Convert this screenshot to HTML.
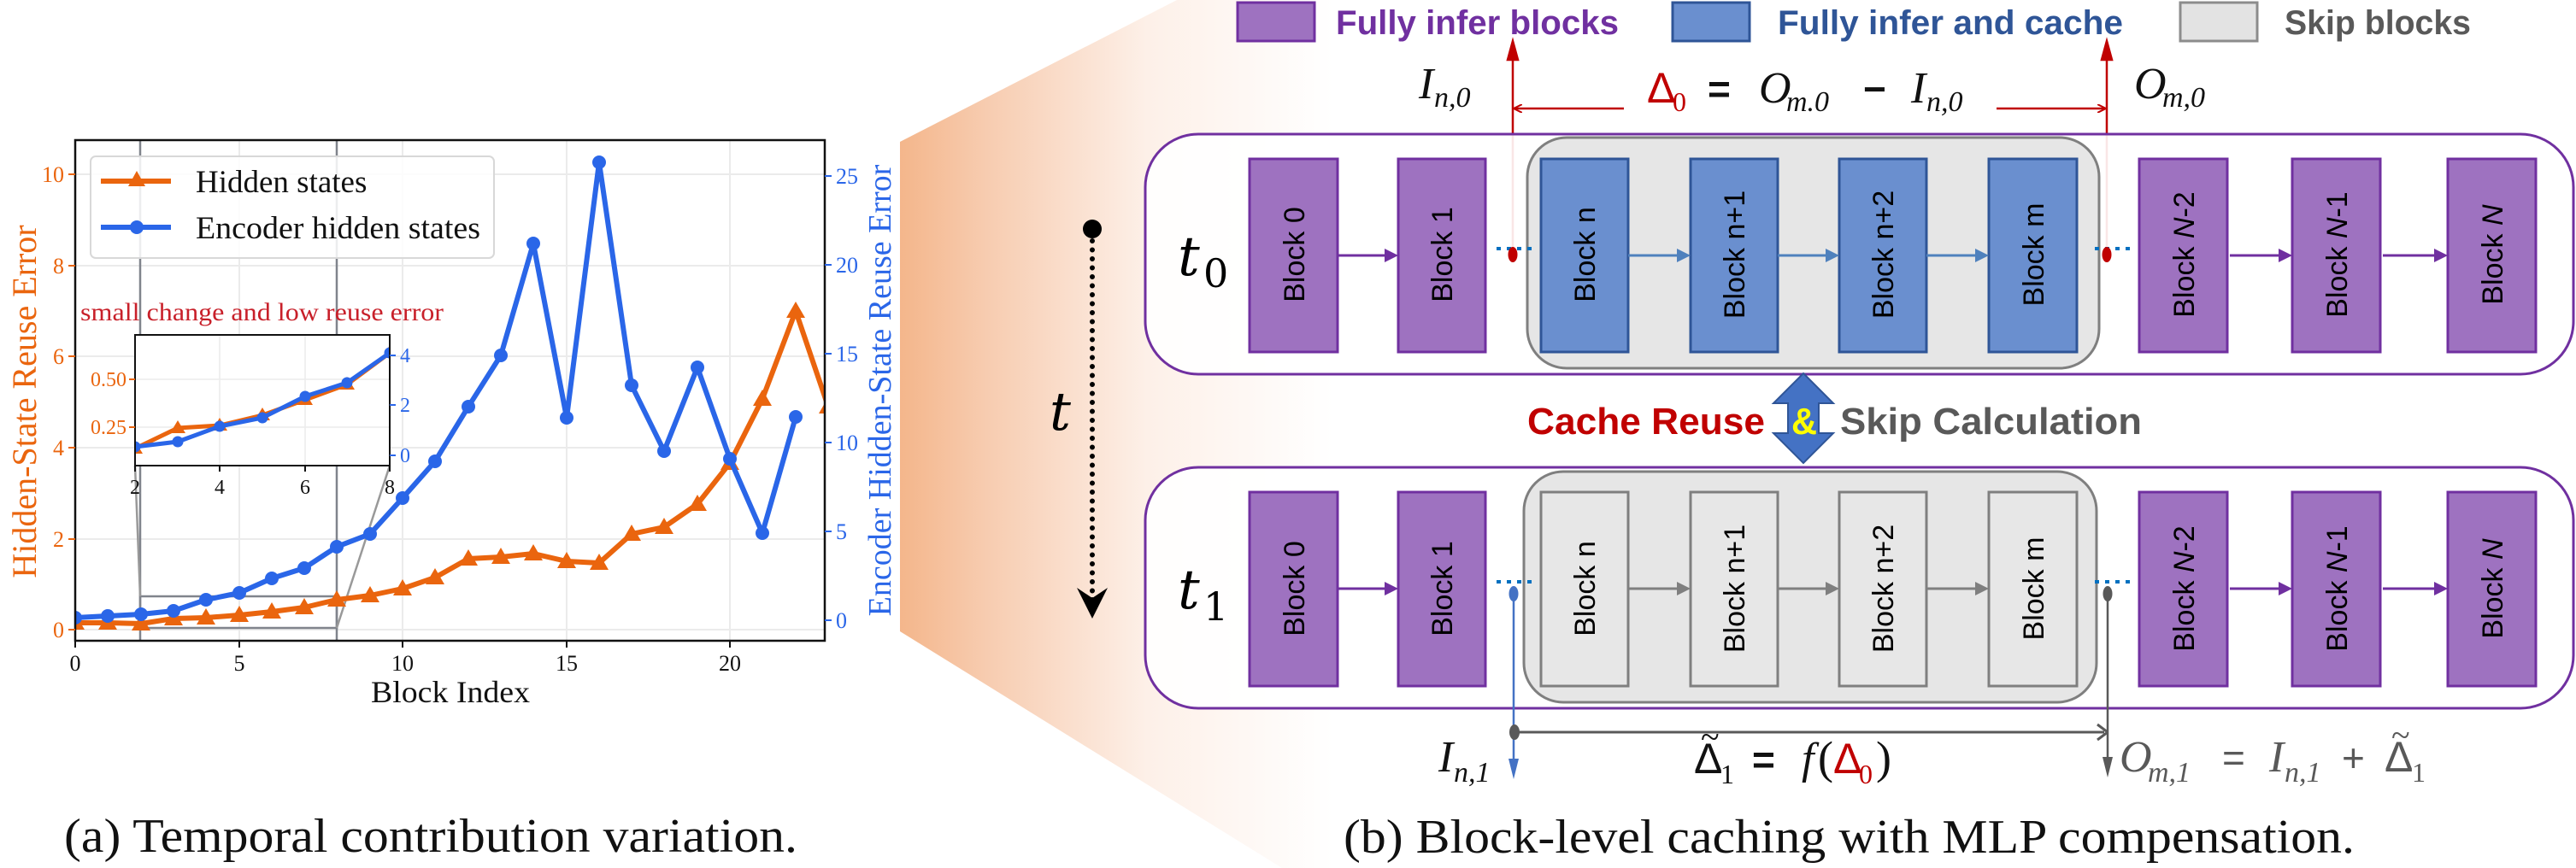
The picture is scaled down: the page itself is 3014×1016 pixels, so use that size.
<!DOCTYPE html>
<html><head><meta charset="utf-8"><style>html,body{margin:0;padding:0;background:#fff}svg{display:block}</style></head>
<body>
<svg width="3014" height="1016" viewBox="0 0 3014 1016" xmlns="http://www.w3.org/2000/svg">
<defs>
<linearGradient id="wg" x1="1053" y1="0" x2="1560" y2="0" gradientUnits="userSpaceOnUse">
<stop offset="0" stop-color="#f4b68b"/><stop offset="0.2" stop-color="#f7ccb0"/><stop offset="0.57" stop-color="#fdf0e8"/><stop offset="1" stop-color="#ffffff"/>
</linearGradient>
<clipPath id="pc"><rect x="88" y="164" width="877" height="586"/></clipPath>
<clipPath id="ic"><rect x="158" y="392" width="298" height="153"/></clipPath>
<marker id="ar" markerWidth="10" markerHeight="10" refX="9" refY="5" orient="auto" markerUnits="userSpaceOnUse"><path d="M0,0 L10,5 L0,10" fill="none" stroke="#c00000" stroke-width="2"/></marker>
</defs>
<!-- wedge -->
<polygon points="1053,166 1377,0 1600,0 1600,1016 1500,1016 1053,739" fill="url(#wg)"/>

<!-- ===== Plot (a) ===== -->
<g stroke="#ebebeb" stroke-width="2">
<line x1="88" y1="164" x2="88" y2="750"/><line x1="280" y1="164" x2="280" y2="750"/><line x1="471" y1="164" x2="471" y2="750"/><line x1="663" y1="164" x2="663" y2="750"/><line x1="854" y1="164" x2="854" y2="750"/>
<line x1="88" y1="737" x2="965" y2="737"/><line x1="88" y1="631" x2="965" y2="631"/><line x1="88" y1="524" x2="965" y2="524"/><line x1="88" y1="417" x2="965" y2="417"/><line x1="88" y1="311" x2="965" y2="311"/><line x1="88" y1="204" x2="965" y2="204"/>
</g>
<g stroke="#80848c" stroke-width="2.5" fill="none">
<line x1="164" y1="164" x2="164" y2="750"/><line x1="394" y1="164" x2="394" y2="750"/>
<rect x="164" y="698" width="230" height="37"/>
<line x1="158" y1="545" x2="164" y2="698" stroke="#999"/><line x1="456" y1="545" x2="394" y2="735" stroke="#999"/>
</g>
<g clip-path="url(#pc)">
<polyline fill="none" stroke="#ea650e" stroke-width="6" stroke-linejoin="round" points="88,729 126,729 165,730 203,724 241,723 280,720 318,716 356,711 394,702 433,697 471,689 509,676 548,654 586,652 624,648 663,657 701,659 739,625 777,617 816,590 854,542 892,467 931,364 969,476"/>
<g fill="#ea650e">
<path d="M88,718 l11,19 h-22z M126,718 l11,19 h-22z M165,719 l11,19 h-22z M203,713 l11,19 h-22z M241,712 l11,19 h-22z M280,709 l11,19 h-22z M318,705 l11,19 h-22z M356,700 l11,19 h-22z M394,691 l11,19 h-22z M433,686 l11,19 h-22z M471,678 l11,19 h-22z M509,665 l11,19 h-22z M548,643 l11,19 h-22z M586,641 l11,19 h-22z M624,637 l11,19 h-22z M663,646 l11,19 h-22z M701,648 l11,19 h-22z M739,614 l11,19 h-22z M777,606 l11,19 h-22z M816,579 l11,19 h-22z M854,531 l11,19 h-22z M892,456 l11,19 h-22z M931,353 l11,19 h-22z M969,465 l11,19 h-22z"/>
</g>
<polyline fill="none" stroke="#2a66e8" stroke-width="6" stroke-linejoin="round" points="88,723 126,721 165,719 203,715 241,702 280,694 318,677 356,665 394,640 433,625 471,583 509,540 548,476 586,416 624,285 663,489 701,190 739,451 777,528 816,430 854,537 892,624 931,488"/>
<g fill="#2a66e8">
<circle cx="88" cy="723" r="8"/><circle cx="126" cy="721" r="8"/><circle cx="165" cy="719" r="8"/><circle cx="203" cy="715" r="8"/><circle cx="241" cy="702" r="8"/><circle cx="280" cy="694" r="8"/><circle cx="318" cy="677" r="8"/><circle cx="356" cy="665" r="8"/><circle cx="394" cy="640" r="8"/><circle cx="433" cy="625" r="8"/><circle cx="471" cy="583" r="8"/><circle cx="509" cy="540" r="8"/><circle cx="548" cy="476" r="8"/><circle cx="586" cy="416" r="8"/><circle cx="624" cy="285" r="8"/><circle cx="663" cy="489" r="8"/><circle cx="701" cy="190" r="8"/><circle cx="739" cy="451" r="8"/><circle cx="777" cy="528" r="8"/><circle cx="816" cy="430" r="8"/><circle cx="854" cy="537" r="8"/><circle cx="892" cy="624" r="8"/><circle cx="931" cy="488" r="8"/>
</g>
</g>
<rect x="88" y="164" width="877" height="586" fill="none" stroke="#111" stroke-width="2.5"/>
<!-- ticks -->
<g stroke="#111" stroke-width="2"><line x1="88" y1="750" x2="88" y2="758"/><line x1="280" y1="750" x2="280" y2="758"/><line x1="471" y1="750" x2="471" y2="758"/><line x1="663" y1="750" x2="663" y2="758"/><line x1="854" y1="750" x2="854" y2="758"/></g>
<g stroke="#ea650e" stroke-width="2"><line x1="80" y1="737" x2="88" y2="737"/><line x1="80" y1="631" x2="88" y2="631"/><line x1="80" y1="524" x2="88" y2="524"/><line x1="80" y1="417" x2="88" y2="417"/><line x1="80" y1="311" x2="88" y2="311"/><line x1="80" y1="204" x2="88" y2="204"/></g>
<g stroke="#2a66e8" stroke-width="2"><line x1="965" y1="726" x2="973" y2="726"/><line x1="965" y1="622" x2="973" y2="622"/><line x1="965" y1="518" x2="973" y2="518"/><line x1="965" y1="414" x2="973" y2="414"/><line x1="965" y1="310" x2="973" y2="310"/><line x1="965" y1="206" x2="973" y2="206"/></g>
<g font-family="Liberation Serif, serif" font-size="26" fill="#111" text-anchor="middle">
<text x="88" y="785">0</text><text x="280" y="785">5</text><text x="471" y="785">10</text><text x="663" y="785">15</text><text x="854" y="785">20</text>
</g>
<g font-family="Liberation Serif, serif" font-size="26" fill="#ea650e" text-anchor="end">
<text x="75" y="746">0</text><text x="75" y="640">2</text><text x="75" y="533">4</text><text x="75" y="426">6</text><text x="75" y="320">8</text><text x="75" y="213">10</text>
</g>
<g font-family="Liberation Serif, serif" font-size="26" fill="#2a66e8">
<text x="978" y="735">0</text><text x="978" y="631">5</text><text x="978" y="527">10</text><text x="978" y="423">15</text><text x="978" y="319">20</text><text x="978" y="215">25</text>
</g>
<text x="527" y="822" font-family="Liberation Serif, serif" font-size="36" fill="#111" text-anchor="middle" textLength="186" lengthAdjust="spacingAndGlyphs">Block Index</text>
<text transform="translate(42,470) rotate(-90)" font-family="Liberation Serif, serif" font-size="40" fill="#ea650e" text-anchor="middle">Hidden-State Reuse Error</text>
<text transform="translate(1042,457) rotate(-90)" font-family="Liberation Serif, serif" font-size="38" fill="#2a66e8" text-anchor="middle">Encoder Hidden-State Reuse Error</text>
<!-- legend -->
<rect x="106" y="183" width="472" height="119" rx="6" fill="#fff" fill-opacity="0.85" stroke="#d8d8d8" stroke-width="2"/>
<line x1="118" y1="212" x2="200" y2="212" stroke="#ea650e" stroke-width="6"/><path d="M160,200 l10,18 h-20z" fill="#ea650e"/>
<line x1="118" y1="266" x2="200" y2="266" stroke="#2a66e8" stroke-width="6"/><circle cx="160" cy="266" r="8" fill="#2a66e8"/>
<text x="229" y="225" font-family="Liberation Serif, serif" font-size="37" fill="#111">Hidden states</text>
<text x="229" y="279" font-family="Liberation Serif, serif" font-size="37" fill="#111" textLength="333" lengthAdjust="spacingAndGlyphs">Encoder hidden states</text>
<text x="94" y="375" font-family="Liberation Serif, serif" font-size="30" fill="#c8202a" textLength="425" lengthAdjust="spacingAndGlyphs">small change and low reuse error</text>
<!-- inset -->
<rect x="158" y="392" width="298" height="153" fill="#fff"/>
<g stroke="#ececec" stroke-width="1.5"><line x1="257" y1="392" x2="257" y2="545"/><line x1="357" y1="392" x2="357" y2="545"/><line x1="158" y1="444" x2="456" y2="444"/><line x1="158" y1="500" x2="456" y2="500"/></g>
<g clip-path="url(#ic)">
<polyline fill="none" stroke="#ea650e" stroke-width="5" points="158,525 208,501 257,498 307,486 357,468 406,450 456,413"/>
<g fill="#ea650e"><path d="M158,516 l9,15 h-18z M208,492 l9,15 h-18z M257,489 l9,15 h-18z M307,477 l9,15 h-18z M357,459 l9,15 h-18z M406,441 l9,15 h-18z M456,404 l9,15 h-18z"/></g>
<polyline fill="none" stroke="#2a66e8" stroke-width="5" points="158,523 208,517 257,499 307,489 357,464 406,448 456,413"/>
<g fill="#2a66e8"><circle cx="158" cy="523" r="6.5"/><circle cx="208" cy="517" r="6.5"/><circle cx="257" cy="499" r="6.5"/><circle cx="307" cy="489" r="6.5"/><circle cx="357" cy="464" r="6.5"/><circle cx="406" cy="448" r="6.5"/><circle cx="456" cy="413" r="6.5"/></g>
</g>
<rect x="158" y="392" width="298" height="153" fill="none" stroke="#111" stroke-width="2"/>
<g stroke="#111" stroke-width="2"><line x1="158" y1="545" x2="158" y2="552"/><line x1="257" y1="545" x2="257" y2="552"/><line x1="357" y1="545" x2="357" y2="552"/><line x1="456" y1="545" x2="456" y2="552"/></g>
<g stroke="#ea650e" stroke-width="2"><line x1="151" y1="444" x2="158" y2="444"/><line x1="151" y1="500" x2="158" y2="500"/></g>
<g stroke="#2a66e8" stroke-width="2"><line x1="456" y1="416" x2="463" y2="416"/><line x1="456" y1="474" x2="463" y2="474"/><line x1="456" y1="533" x2="463" y2="533"/></g>
<g font-family="Liberation Serif, serif" font-size="24" fill="#111" text-anchor="middle"><text x="158" y="578">2</text><text x="257" y="578">4</text><text x="357" y="578">6</text><text x="456" y="578">8</text></g>
<g font-family="Liberation Serif, serif" font-size="24" fill="#ea650e" text-anchor="end"><text x="148" y="452">0.50</text><text x="148" y="508">0.25</text></g>
<g font-family="Liberation Serif, serif" font-size="24" fill="#2a66e8"><text x="468" y="424">4</text><text x="468" y="482">2</text><text x="468" y="541">0</text></g>
<text x="75" y="997" font-family="Liberation Serif, serif" font-size="56" fill="#111" textLength="858" lengthAdjust="spacingAndGlyphs">(a) Temporal contribution variation.</text>

<!-- ===== Panel (b) ===== -->
<!-- legend -->
<rect x="1448" y="3" width="90" height="45" fill="#9e72c0" stroke="#7030a0" stroke-width="3"/>
<text x="1563" y="40" font-family="Liberation Sans, sans-serif" font-weight="bold" font-size="40" fill="#7030a0" textLength="331" lengthAdjust="spacingAndGlyphs">Fully infer blocks</text>
<rect x="1957" y="3" width="90" height="45" fill="#6a8fcf" stroke="#2f5597" stroke-width="3"/>
<text x="2080" y="40" font-family="Liberation Sans, sans-serif" font-weight="bold" font-size="40" fill="#2f5597" textLength="404" lengthAdjust="spacingAndGlyphs">Fully infer and cache</text>
<rect x="2551" y="3" width="90" height="45" fill="#e3e3e3" stroke="#8c8c8c" stroke-width="3"/>
<text x="2673" y="40" font-family="Liberation Sans, sans-serif" font-weight="bold" font-size="40" fill="#595959" textLength="218" lengthAdjust="spacingAndGlyphs">Skip blocks</text>

<!-- equation top -->
<g font-family="Liberation Serif, serif" font-style="italic" fill="#111">
<text x="1660" y="115" font-size="52">I</text><text x="1678" y="125" font-size="34">n,0</text>
<text x="2058" y="120" font-size="52">O</text><text x="2090" y="130" font-size="34">m.0</text>
<text x="2236" y="120" font-size="52">I</text><text x="2254" y="130" font-size="34">n,0</text>
<text x="2497" y="115" font-size="52">O</text><text x="2530" y="125" font-size="34">m,0</text>
</g>
<text x="1927" y="120" font-family="Liberation Sans, sans-serif" font-size="50" fill="#c00000">Δ</text>
<text x="1957" y="130" font-family="Liberation Serif, serif" font-size="32" fill="#c00000">0</text>
<text x="1998" y="120" font-family="Liberation Sans, sans-serif" font-weight="bold" font-size="46" fill="#111">=</text>
<text x="2180" y="120" font-family="Liberation Sans, sans-serif" font-weight="bold" font-size="46" fill="#111">−</text>
<g stroke="#c00000" stroke-width="2.5" fill="none">
<line x1="1770" y1="298" x2="1770" y2="55"/><path d="M1770,48 l-6,22 h12z" fill="#c00000"/>
<line x1="2465" y1="298" x2="2465" y2="55"/><path d="M2465,48 l-6,22 h12z" fill="#c00000"/>
<line x1="1900" y1="127" x2="1772" y2="127" marker-end="url(#ar)"/>
<line x1="2336" y1="127" x2="2463" y2="127" marker-end="url(#ar)"/>
</g>

<!-- time axis -->
<line x1="1278" y1="282" x2="1278" y2="708" stroke="#000" stroke-width="6" stroke-linecap="round" stroke-dasharray="0 10.5"/>
<ellipse cx="1278" cy="268" rx="11" ry="11" fill="#000"/>
<path d="M1278,724 L1260,688 L1278,700 L1296,688 Z" fill="#000"/>
<text x="1228" y="503" font-family="DejaVu Serif, serif" font-style="italic" font-size="62" fill="#000">t</text>

<!-- t0 row -->
<rect x="1340" y="157" width="1671" height="281" rx="62" fill="#fff" fill-opacity="0.9" stroke="#7030a0" stroke-width="3"/>
<text x="1378" y="322" font-family="DejaVu Serif, serif" font-style="italic" font-size="64" fill="#000">t</text>
<text x="1408" y="336" font-family="DejaVu Serif, serif" font-size="46" fill="#000">0</text>
<rect x="1787" y="161" width="669" height="270" rx="46" fill="#e6e6e6" stroke="#7f7f7f" stroke-width="3"/>
<g stroke-width="3">
<rect x="1462" y="186" width="103" height="226" fill="#9e72c0" stroke="#7030a0"/>
<rect x="1636" y="186" width="102" height="226" fill="#9e72c0" stroke="#7030a0"/>
<rect x="1803" y="186" width="102" height="226" fill="#6a8fcf" stroke="#2f5597"/>
<rect x="1978" y="186" width="102" height="226" fill="#6a8fcf" stroke="#2f5597"/>
<rect x="2152" y="186" width="102" height="226" fill="#6a8fcf" stroke="#2f5597"/>
<rect x="2327" y="186" width="103" height="226" fill="#6a8fcf" stroke="#2f5597"/>
<rect x="2503" y="186" width="103" height="226" fill="#9e72c0" stroke="#7030a0"/>
<rect x="2682" y="186" width="103" height="226" fill="#9e72c0" stroke="#7030a0"/>
<rect x="2864" y="186" width="103" height="226" fill="#9e72c0" stroke="#7030a0"/>
</g>
<!-- t1 row -->
<rect x="1340" y="547" width="1671" height="282" rx="62" fill="#fff" fill-opacity="0.9" stroke="#7030a0" stroke-width="3"/>
<text x="1378" y="712" font-family="DejaVu Serif, serif" font-style="italic" font-size="64" fill="#000">t</text>
<text x="1408" y="726" font-family="DejaVu Serif, serif" font-size="46" fill="#000">1</text>
<rect x="1783" y="552" width="670" height="270" rx="46" fill="#e6e6e6" stroke="#7f7f7f" stroke-width="3"/>
<g stroke-width="3">
<rect x="1462" y="576" width="103" height="227" fill="#9e72c0" stroke="#7030a0"/>
<rect x="1636" y="576" width="102" height="227" fill="#9e72c0" stroke="#7030a0"/>
<rect x="1803" y="576" width="102" height="227" fill="#e7e7e7" stroke="#7f7f7f"/>
<rect x="1978" y="576" width="102" height="227" fill="#e7e7e7" stroke="#7f7f7f"/>
<rect x="2152" y="576" width="102" height="227" fill="#e7e7e7" stroke="#7f7f7f"/>
<rect x="2327" y="576" width="103" height="227" fill="#e7e7e7" stroke="#7f7f7f"/>
<rect x="2503" y="576" width="103" height="227" fill="#9e72c0" stroke="#7030a0"/>
<rect x="2682" y="576" width="103" height="227" fill="#9e72c0" stroke="#7030a0"/>
<rect x="2864" y="576" width="103" height="227" fill="#9e72c0" stroke="#7030a0"/>
</g>
<!-- block labels -->
<g font-family="Liberation Sans, sans-serif" font-size="34" fill="#000" text-anchor="middle">
<text transform="translate(1526,298) rotate(-90)">Block 0</text>
<text transform="translate(1699,298) rotate(-90)">Block 1</text>
<text transform="translate(1866,298) rotate(-90)">Block n</text>
<text transform="translate(2041,298) rotate(-90)">Block n+1</text>
<text transform="translate(2215,298) rotate(-90)">Block n+2</text>
<text transform="translate(2391,298) rotate(-90)">Block m</text>
<text transform="translate(2567,298) rotate(-90)">Block <tspan font-style="italic">N</tspan>-2</text>
<text transform="translate(2746,298) rotate(-90)">Block <tspan font-style="italic">N</tspan>-1</text>
<text transform="translate(2928,298) rotate(-90)">Block <tspan font-style="italic">N</tspan></text>
<text transform="translate(1526,689) rotate(-90)">Block 0</text>
<text transform="translate(1699,689) rotate(-90)">Block 1</text>
<text transform="translate(1866,689) rotate(-90)">Block n</text>
<text transform="translate(2041,689) rotate(-90)">Block n+1</text>
<text transform="translate(2215,689) rotate(-90)">Block n+2</text>
<text transform="translate(2391,689) rotate(-90)">Block m</text>
<text transform="translate(2567,689) rotate(-90)">Block <tspan font-style="italic">N</tspan>-2</text>
<text transform="translate(2746,689) rotate(-90)">Block <tspan font-style="italic">N</tspan>-1</text>
<text transform="translate(2928,689) rotate(-90)">Block <tspan font-style="italic">N</tspan></text>
</g>
<!-- row arrows -->
<g stroke-width="3">
<line x1="1565" y1="299" x2="1622" y2="299" stroke="#7030a0"/><path d="M1636,299 l-16,-8 v16z" fill="#7030a0"/>
<line x1="2609" y1="299" x2="2668" y2="299" stroke="#7030a0"/><path d="M2682,299 l-16,-8 v16z" fill="#7030a0"/>
<line x1="2788" y1="299" x2="2850" y2="299" stroke="#7030a0"/><path d="M2864,299 l-16,-8 v16z" fill="#7030a0"/>
<line x1="1905" y1="299" x2="1964" y2="299" stroke="#4f81bd"/><path d="M1978,299 l-16,-8 v16z" fill="#4f81bd"/>
<line x1="2080" y1="299" x2="2138" y2="299" stroke="#4f81bd"/><path d="M2152,299 l-16,-8 v16z" fill="#4f81bd"/>
<line x1="2254" y1="299" x2="2313" y2="299" stroke="#4f81bd"/><path d="M2327,299 l-16,-8 v16z" fill="#4f81bd"/>
<line x1="1565" y1="689" x2="1622" y2="689" stroke="#7030a0"/><path d="M1636,689 l-16,-8 v16z" fill="#7030a0"/>
<line x1="2609" y1="689" x2="2668" y2="689" stroke="#7030a0"/><path d="M2682,689 l-16,-8 v16z" fill="#7030a0"/>
<line x1="2788" y1="689" x2="2850" y2="689" stroke="#7030a0"/><path d="M2864,689 l-16,-8 v16z" fill="#7030a0"/>
<line x1="1905" y1="689" x2="1964" y2="689" stroke="#7f7f7f"/><path d="M1978,689 l-16,-8 v16z" fill="#7f7f7f"/>
<line x1="2080" y1="689" x2="2138" y2="689" stroke="#7f7f7f"/><path d="M2152,689 l-16,-8 v16z" fill="#7f7f7f"/>
<line x1="2254" y1="689" x2="2313" y2="689" stroke="#7f7f7f"/><path d="M2327,689 l-16,-8 v16z" fill="#7f7f7f"/>
</g>
<!-- dotted connectors -->
<g stroke="#0070c0" stroke-width="4" stroke-dasharray="5 7">
<line x1="1751" y1="291" x2="1792" y2="291"/><line x1="2451" y1="291" x2="2492" y2="291"/>
<line x1="1751" y1="681" x2="1792" y2="681"/><line x1="2451" y1="681" x2="2492" y2="681"/>
</g>
<ellipse cx="1770" cy="298" rx="5.5" ry="9" fill="#c00000"/>
<ellipse cx="2465" cy="298" rx="5.5" ry="9" fill="#c00000"/>
<!-- bottom connectors -->
<line x1="1771" y1="695" x2="1771" y2="890" stroke="#4472c4" stroke-width="2.5"/><path d="M1771,912 l-6,-24 h12z" fill="#4472c4"/>
<line x1="2466" y1="695" x2="2466" y2="890" stroke="#595959" stroke-width="2.5"/><path d="M2466,910 l-6,-24 h12z" fill="#595959"/>
<line x1="1773" y1="857" x2="2462" y2="857" stroke="#595959" stroke-width="3"/><path d="M2466,857 l-12,-9 M2466,857 l-12,9" stroke="#595959" stroke-width="3"/>
<ellipse cx="1772" cy="857" rx="6" ry="9" fill="#595959"/>
<ellipse cx="1771" cy="695" rx="5.5" ry="9" fill="#4472c4"/>
<ellipse cx="2466" cy="695" rx="5.5" ry="9" fill="#595959"/>
<!-- bottom equations -->
<g font-family="Liberation Serif, serif" font-style="italic" fill="#111">
<text x="1683" y="903" font-size="52">I</text><text x="1701" y="915" font-size="34">n,1</text>
<text x="2108" y="905" font-size="52">f</text>
</g>
<text x="1982" y="905" font-family="Liberation Sans, sans-serif" font-size="50" fill="#111">Δ</text>
<text x="1990" y="876" font-family="Liberation Serif, serif" font-size="40" fill="#111">~</text>
<text x="2013" y="917" font-family="Liberation Serif, serif" font-size="32" fill="#111">1</text>
<text x="2050" y="905" font-family="Liberation Sans, sans-serif" font-weight="bold" font-size="46" fill="#111">=</text>
<text x="2127" y="905" font-family="Liberation Serif, serif" font-size="54" fill="#111">(</text>
<text x="2145" y="905" font-family="Liberation Sans, sans-serif" font-size="50" fill="#c00000">Δ</text>
<text x="2175" y="917" font-family="Liberation Serif, serif" font-size="32" fill="#c00000">0</text>
<text x="2195" y="905" font-family="Liberation Serif, serif" font-size="54" fill="#111">)</text>
<g fill="#595959">
<text x="2480" y="903" font-family="Liberation Serif, serif" font-style="italic" font-size="52">O</text>
<text x="2513" y="915" font-family="Liberation Serif, serif" font-style="italic" font-size="34">m,1</text>
<text x="2600" y="903" font-family="Liberation Sans, sans-serif" font-size="46">=</text>
<text x="2655" y="903" font-family="Liberation Serif, serif" font-style="italic" font-size="52">I</text>
<text x="2673" y="915" font-family="Liberation Serif, serif" font-style="italic" font-size="34">n,1</text>
<text x="2740" y="903" font-family="Liberation Sans, sans-serif" font-size="46">+</text>
<text x="2790" y="903" font-family="Liberation Sans, sans-serif" font-size="50">Δ</text>
<text x="2798" y="874" font-family="Liberation Serif, serif" font-size="40">~</text>
<text x="2822" y="915" font-family="Liberation Serif, serif" font-size="32">1</text>
</g>
<!-- cache reuse arrow -->
<polygon points="2110,437 2145,472 2128,472 2128,507 2145,507 2110,542 2075,507 2092,507 2092,472 2075,472" fill="#4472c4" stroke="#2f5597" stroke-width="2"/>
<text x="1787" y="508" font-family="Liberation Sans, sans-serif" font-weight="bold" font-size="44" fill="#c00000" textLength="278" lengthAdjust="spacingAndGlyphs">Cache Reuse</text>
<text x="2096" y="508" font-family="Liberation Sans, sans-serif" font-weight="bold" font-size="44" fill="#ffff00" textLength="30" lengthAdjust="spacingAndGlyphs">&amp;</text>
<text x="2153" y="508" font-family="Liberation Sans, sans-serif" font-weight="bold" font-size="44" fill="#595959" textLength="353" lengthAdjust="spacingAndGlyphs">Skip Calculation</text>

<text x="1572" y="998" font-family="Liberation Serif, serif" font-size="56" fill="#111" textLength="1183" lengthAdjust="spacingAndGlyphs">(b) Block-level caching with MLP compensation.</text>
</svg>
</body></html>
